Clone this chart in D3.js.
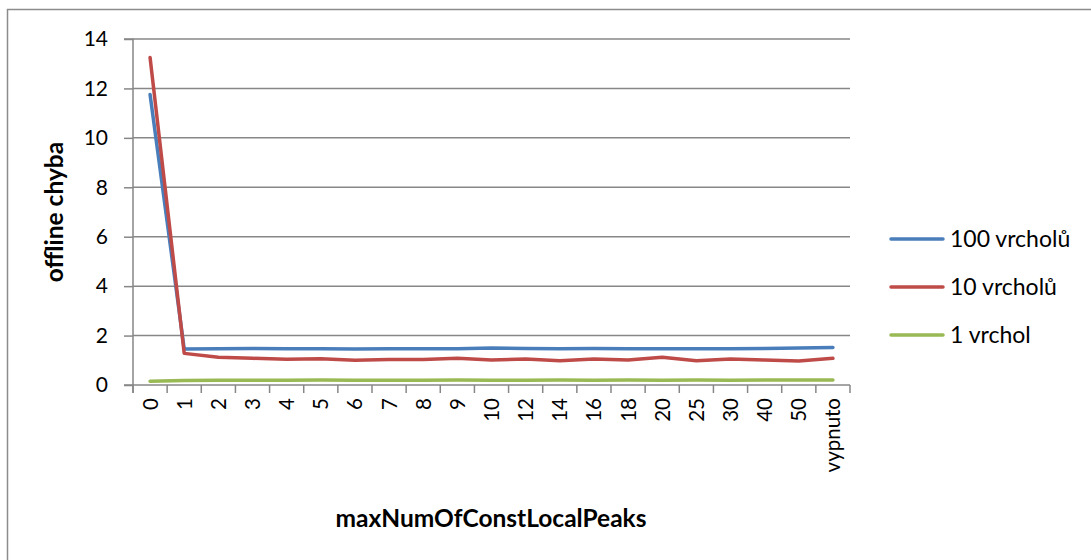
<!DOCTYPE html>
<html>
<head>
<meta charset="utf-8">
<script src="https://cdn.jsdelivr.net/npm/d3@7"></script>
<style>
  html, body { margin: 0; padding: 0; background: #fff; }
  svg { display: block; }
  text { font-family: Lato, "Open Sans", sans-serif; fill: #000; }
</style>
</head>
<body>
<svg id="chart" width="1091" height="560"></svg>
<script>
// Category labels on the x axis (values of maxNumOfConstLocalPeaks)
const categories = ["0","1","2","3","4","5","6","7","8","9","10","12","14","16","18","20","25","30","40","50","vypnuto"];

// Offline error for each problem size
const peaks100 = [11.75,1.46,1.47,1.48,1.47,1.47,1.46,1.47,1.47,1.47,1.50,1.48,1.47,1.48,1.47,1.47,1.47,1.47,1.48,1.50,1.52];
const peaks10  = [13.25,1.28,1.12,1.08,1.04,1.06,1.00,1.03,1.03,1.08,1.01,1.05,0.98,1.05,1.01,1.12,0.98,1.05,1.01,0.97,1.08];
const peaks1   = [0.15,0.18,0.19,0.19,0.19,0.20,0.19,0.19,0.19,0.20,0.19,0.19,0.20,0.19,0.20,0.19,0.20,0.19,0.20,0.20,0.20];

const seriesNames = ["100 vrcholů","10 vrcholů","1 vrchol"];
const seriesColors = ["#4A7EBB","#BE4B48","#98B954"];
const yTicks = [0,2,4,6,8,10,12,14];

const series = [peaks100, peaks10, peaks1].map((values, i) => ({
  name: seriesNames[i], color: seriesColors[i], values
}));

const svg = d3.select("#chart");
const plot = { left: 133, right: 850, top: 39, bottom: 385 };

// Chart frame
svg.append("rect")
  .attr("x", 7.5).attr("y", 9.5)
  .attr("width", 1100).attr("height", 600)
  .attr("fill", "none").attr("stroke", "#8c8c8c").attr("stroke-width", 1.5);

const x = d3.scaleBand().domain(categories).range([plot.left, plot.right]).paddingInner(0).paddingOuter(0);
const y = d3.scaleLinear().domain([0, 14]).range([plot.bottom, plot.top]);

const gridColor = "#878787";

// Horizontal gridlines
svg.append("g").selectAll("line").data(yTicks.filter(d => d > 0)).join("line")
  .attr("x1", plot.left).attr("x2", plot.right)
  .attr("y1", d => y(d)).attr("y2", d => y(d))
  .attr("stroke", gridColor).attr("stroke-width", 1.5);

// Y axis
const yAxis = svg.append("g").attr("transform", `translate(${plot.left},0)`)
  .call(d3.axisLeft(y).tickValues(yTicks).tickSize(9).tickPadding(16).tickFormat(d3.format("d")));
yAxis.select(".domain").attr("stroke", gridColor).attr("stroke-width", 1.5)
  .attr("d", `M-9,${plot.top}H0V${plot.bottom + 8}`);
yAxis.selectAll(".tick line").attr("stroke", gridColor).attr("stroke-width", 1.5);
yAxis.selectAll(".tick text").attr("font-size", 21).attr("font-family", "Lato, sans-serif").attr("fill", "#000");

// X axis with tick marks at category boundaries
const xAxisG = svg.append("g").attr("transform", `translate(0,${plot.bottom})`);
xAxisG.append("line")
  .attr("x1", plot.left - 9).attr("x2", plot.right)
  .attr("y1", 0).attr("y2", 0)
  .attr("stroke", gridColor).attr("stroke-width", 1.5);
const boundaries = categories.map(c => x(c) + x.bandwidth()).concat([x(categories[0])]);
xAxisG.selectAll("line.tick").data(boundaries).join("line")
  .attr("class", "tick")
  .attr("x1", d => d).attr("x2", d => d)
  .attr("y1", 0).attr("y2", 8)
  .attr("stroke", gridColor).attr("stroke-width", 1.5);
xAxisG.selectAll("text").data(categories).join("text")
  .attr("transform", d => `translate(${x(d) + x.bandwidth() / 2 + 7.5},13) rotate(-90)`)
  .attr("text-anchor", "end")
  .attr("font-size", 20.5)
  .text(d => d);

// Series lines
const line = d3.line()
  .x((d, i) => x(categories[i]) + x.bandwidth() / 2)
  .y(d => y(d));

svg.append("g").selectAll("path").data(series).join("path")
  .attr("d", d => line(d.values))
  .attr("fill", "none")
  .attr("stroke", d => d.color)
  .attr("stroke-width", 3.5)
  .attr("stroke-linejoin", "round")
  .attr("stroke-linecap", "round");

// Axis titles
svg.append("text")
  .attr("transform", `translate(63,212) rotate(-90)`)
  .attr("text-anchor", "middle")
  .attr("font-size", 24.5).attr("font-weight", "bold")
  .text("offline chyba");

svg.append("text")
  .attr("x", 491).attr("y", 527)
  .attr("text-anchor", "middle")
  .attr("font-size", 24.5).attr("font-weight", "bold")
  .text("maxNumOfConstLocalPeaks");

// Legend
const legend = svg.append("g").selectAll("g").data(series).join("g")
  .attr("transform", (d, i) => `translate(891,${239 + i * 48})`);
legend.append("line")
  .attr("x1", 0).attr("x2", 52).attr("y1", 0).attr("y2", 0)
  .attr("stroke", d => d.color).attr("stroke-width", 3.5).attr("stroke-linecap", "round");
legend.append("text")
  .attr("x", 59).attr("y", 8)
  .attr("font-size", 23)
  .text(d => d.name);
</script>
</body>
</html>
